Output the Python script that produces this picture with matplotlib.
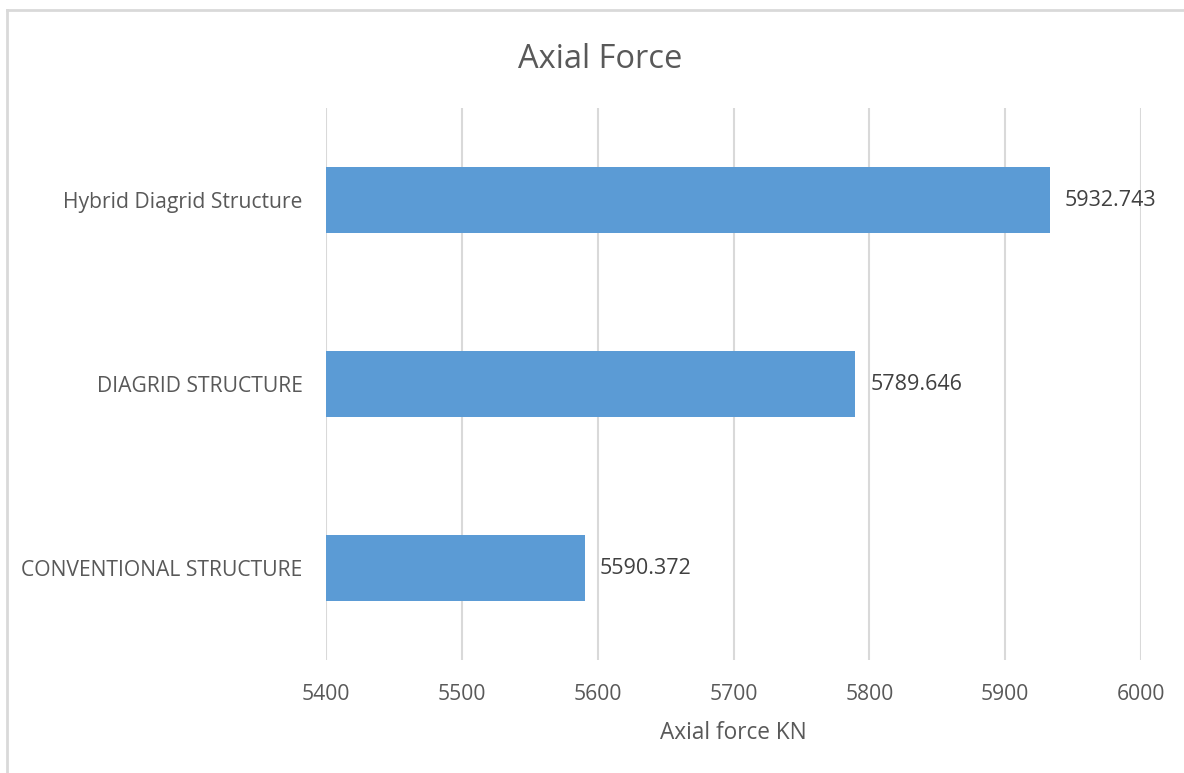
import matplotlib.pyplot as plt
from matplotlib.lines import Line2D

categories = ['CONVENTIONAL STRUCTURE', 'DIAGRID STRUCTURE', 'Hybrid Diagrid Structure']
axial_force = [5590.372, 5789.646, 5932.743]
value_labels = ['5590.372', '5789.646', '5932.743']
x_ticks = [5400, 5500, 5600, 5700, 5800, 5900, 6000]

plt.rcParams['font.family'] = ['Open Sans', 'DejaVu Sans']
txt = '#595959'
grid = '#D9D9D9'

fig = plt.figure(figsize=(11.84, 7.73), dpi=100)
ax = fig.add_axes([326 / 1184, 113 / 773, (1141 - 326) / 1184, (660 - 108) / 773])

ax.barh(range(len(categories)), [v - 5400 for v in axial_force], left=5400,
        height=0.36, color='#5B9BD5', zorder=3)
for i, (v, lab) in enumerate(zip(axial_force, value_labels)):
    ax.text(v + 11, i, lab, va='center', ha='left', fontsize=15.5, color='#404040')

ax.set_xlim(5400, 6000)
ax.set_ylim(-0.5, 2.5)
ax.set_xticks(x_ticks)
ax.set_yticks(range(len(categories)))
ax.set_yticklabels(categories)
ax.grid(axis='x', color=grid, linewidth=1.5, zorder=0)
for s in ax.spines.values():
    s.set_visible(False)
ax.tick_params(axis='both', length=0, labelsize=15.2, labelcolor=txt)
ax.tick_params(axis='x', pad=17)
ax.tick_params(axis='y', pad=17)
ax.set_xlabel('Axial force KN', fontsize=16.3, color=txt, labelpad=12)
fig.text(600 / 1184, 1 - 59 / 773, 'Axial Force', ha='center', va='center',
         fontsize=23.5, color=txt)

# chart border (only top and left visible in the crop)
fig.add_artist(Line2D([7 / 1184, 7 / 1184], [0, 1 - 10 / 773], transform=fig.transFigure,
                      color=grid, linewidth=2))
fig.add_artist(Line2D([7 / 1184, 1], [1 - 10 / 773, 1 - 10 / 773], transform=fig.transFigure,
                      color=grid, linewidth=2))

fig.savefig('out.png', dpi=100)
